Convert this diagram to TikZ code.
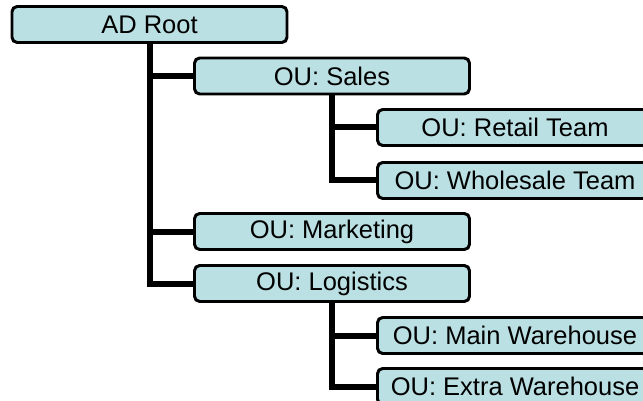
\documentclass[tikz,border=0pt]{standalone}
\usepackage{fontspec}
\setmainfont{Liberation Sans}
\definecolor{boxfill}{RGB}{186,224,227}
\begin{document}
\begin{tikzpicture}[x=1pt,y=-1pt,
  ou/.style={draw=black, line width=1.8pt, fill=boxfill, rounded corners=5pt,
    minimum width=274pt, minimum height=35pt, inner sep=0pt,
    font=\fontsize{25.5}{28}\selectfont},
  conn/.style={draw=black, line width=6pt},
  border/.style={draw=black, line width=1.8pt, rounded corners=5pt}]
\useasboundingbox (0,0) rectangle (643,401);
\clip (0,0) rectangle (643,401);
\coordinate (rootC) at (149.5,24.5);
\coordinate (salesC) at (332,76);
\coordinate (retailC) at (515,127.5);
\coordinate (wholeC) at (515,180.5);
\coordinate (mktC) at (332,231.5);
\coordinate (logC) at (332,283.5);
\coordinate (mainC) at (515,335.5);
\coordinate (extraC) at (515,386.5);
\node[ou] (root) at (rootC) {AD Root};
\node[ou] (sales) at (salesC) {OU: Sales};
\node[ou] (retail) at (retailC) {OU: Retail Team};
\node[ou] (whole) at (wholeC) {OU: Wholesale Team};
\node[ou] (mkt) at (mktC) {OU: Marketing};
\node[ou] (log) at (logC) {OU: Logistics};
\node[ou] (main) at (mainC) {OU: Main Warehouse};
\node[ou] (extra) at (extraC) {OU: Extra Warehouse};
\draw[conn] (root.south) |- (sales.west);
\draw[conn] (root.south) |- (mkt.west);
\draw[conn] (root.south) |- (log.west);
\draw[conn] (sales.south) |- (retail.west);
\draw[conn] (sales.south) |- (whole.west);
\draw[conn] (log.south) |- (main.west);
\draw[conn] (log.south) |- (extra.west);
\foreach \n in {root,sales,retail,whole,mkt,log,main,extra}{
  \draw[border] (\n.north west) rectangle (\n.south east);
}
\end{tikzpicture}
\end{document}
